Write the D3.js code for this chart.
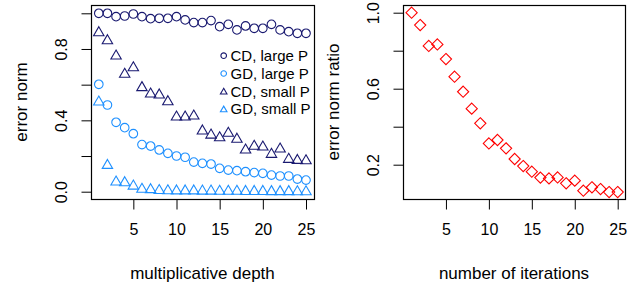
<!DOCTYPE html>
<html>
<head>
<meta charset="utf-8">
<script src="https://cdn.jsdelivr.net/npm/d3@7"></script>
<style>
  body { margin: 0; background: #fff; }
  text { font-family: "Liberation Sans", Arial, sans-serif; fill: #000; }
</style>
</head>
<body>
<svg id="chart" width="637" height="287"></svg>
<script>
// data
var depth = d3.range(1, 26);
var cdLarge = [1.0, 1.0, 0.981, 0.985, 0.996, 0.981, 0.970, 0.972, 0.972, 0.981,
  0.963, 0.948, 0.948, 0.959, 0.925, 0.938, 0.907, 0.929, 0.916, 0.916,
  0.938, 0.907, 0.897, 0.888, 0.888];
var gdLarge = [0.602, 0.486, 0.389, 0.359, 0.325, 0.264, 0.256, 0.234, 0.215, 0.200,
  0.193, 0.166, 0.159, 0.155, 0.131, 0.121, 0.118, 0.112, 0.107, 0.103,
  0.093, 0.088, 0.088, 0.071, 0.065];
var cdSmall = [0.897, 0.852, 0.766, 0.664, 0.700, 0.589, 0.553, 0.548, 0.510, 0.424,
  0.424, 0.430, 0.346, 0.323, 0.308, 0.333, 0.300, 0.239, 0.260, 0.256,
  0.215, 0.245, 0.187, 0.181, 0.179];
var gdSmall = [0.508, 0.153, 0.060, 0.056, 0.037, 0.019, 0.017, 0.012, 0.011, 0.010,
  0.010, 0.010, 0.009, 0.009, 0.008, 0.008, 0.008, 0.007, 0.007, 0.007,
  0.006, 0.006, 0.006, 0.005, 0.005];
var ratio = [1.0, 0.935, 0.825, 0.833, 0.756, 0.663, 0.584, 0.495, 0.418, 0.312,
  0.330, 0.286, 0.230, 0.193, 0.163, 0.132, 0.128, 0.133, 0.102, 0.116,
  0.063, 0.081, 0.072, 0.056, 0.056];

var xTicks = [5, 10, 15, 20, 25];
var leftYTicks = [0, 0.2, 0.4, 0.6, 0.8, 1.0];
var leftYLabels = [0, 0.4, 0.8];
var rightYTicks = [0.2, 0.4, 0.6, 0.8, 1.0];
var rightYLabels = [0.2, 0.6, 1.0];

var navy = "#191970", blue = "#1E90FF", red = "#FF0000";

var series = [
  { name: "CD, large P", values: cdLarge, color: navy, shape: "circle" },
  { name: "GD, large P", values: gdLarge, color: blue, shape: "circle" },
  { name: "CD, small P", values: cdSmall, color: navy, shape: "triangle" },
  { name: "GD, small P", values: gdSmall, color: blue, shape: "triangle" }
];

var svg = d3.select("#chart");

function tri(r) {
  // equilateral triangle, point up, centred on the point
  var h = r * Math.sqrt(3) / 2;
  return "M0," + (-r) + "L" + h + "," + (r / 2) + "L" + (-h) + "," + (r / 2) + "Z";
}
function diamond(r) {
  return "M0," + (-r) + "L" + r + ",0L0," + r + "L" + (-r) + ",0Z";
}

function drawPanel(opt) {
  var g = svg.append("g");
  var x = d3.scaleLinear().domain([1, 25]).range(opt.xRange);
  var y = d3.scaleLinear().domain(opt.yDomain).range(opt.yRange);

  g.append("rect")
    .attr("x", opt.box[0] + 0.5).attr("y", opt.box[1] + 0.5)
    .attr("width", opt.box[2] - opt.box[0]).attr("height", opt.box[3] - opt.box[1])
    .attr("fill", "none").attr("stroke", "#000").attr("stroke-width", 1.2);

  // x axis
  var xa = g.append("g")
    .attr("transform", "translate(0," + (opt.box[3] + 0.5) + ")")
    .call(d3.axisBottom(x).tickValues(xTicks).tickSize(10).tickPadding(14));
  xa.select(".domain").remove();
  xa.selectAll("text").attr("font-size", 16).attr("font-family", null);

  // y axis, labels on every other tick only
  var ya = g.append("g")
    .attr("transform", "translate(" + (opt.box[0] + 0.5) + ",0)")
    .call(d3.axisLeft(y).tickValues(opt.yTicks).tickSize(10)
      .tickFormat(function(d) {
        return opt.yLabels.some(function(l) { return Math.abs(l - d) < 1e-9; }) ? d3.format(".1f")(d) : "";
      }));
  ya.select(".domain").remove();
  ya.selectAll("text")
    .attr("font-size", 16).attr("font-family", null)
    .attr("x", null).attr("dy", null)
    .attr("text-anchor", "middle")
    .attr("transform", "translate(-24.5,0) rotate(-90)");

  // titles
  g.append("text")
    .attr("x", (opt.box[0] + opt.box[2]) / 2).attr("y", 279)
    .attr("text-anchor", "middle").attr("font-size", 17)
    .text(opt.xTitle);
  g.append("text")
    .attr("transform", "translate(" + (opt.box[0] - 64) + "," + ((opt.box[1] + opt.box[3]) / 2) + ") rotate(-90)")
    .attr("text-anchor", "middle").attr("font-size", 17)
    .text(opt.yTitle);

  return { g: g, x: x, y: y };
}

// left panel
var L = drawPanel({
  box: [91, 5, 314, 199],
  xRange: [98.8, 306],
  yDomain: [0, 1], yRange: [191.7, 13.3],
  yTicks: leftYTicks, yLabels: leftYLabels,
  xTitle: "multiplicative depth", yTitle: "error norm"
});

series.forEach(function(s) {
  L.g.append("g").selectAll("path")
    .data(s.values).enter().append("path")
    .attr("transform", function(d, i) {
      return "translate(" + L.x(depth[i]) + "," + (s.shape === "triangle" ? L.y(d) + 1 : L.y(d)) + ")";
    })
    .attr("d", s.shape === "circle" ? d3.symbol().type(d3.symbolCircle).size(Math.PI * 4.3 * 4.3)() : tri(6))
    .attr("fill", "none")
    .attr("stroke", s.color)
    .attr("stroke-width", 1.1);
});

// legend
var leg = L.g.append("g");
series.forEach(function(s, i) {
  var yy = 55.7 + i * 17.8;
  leg.append("path")
    .attr("transform", "translate(223.7," + (s.shape === "triangle" ? yy + 0.8 : yy) + ")")
    .attr("d", s.shape === "circle" ? d3.symbol().type(d3.symbolCircle).size(Math.PI * 2.8 * 2.8)() : tri(3.8))
    .attr("fill", "none").attr("stroke", s.color).attr("stroke-width", 1.1);
  leg.append("text")
    .attr("x", 230.5).attr("y", yy + 5.3)
    .attr("font-size", 15)
    .text(s.name);
});

// right panel
var R = drawPanel({
  box: [403, 5, 625, 199],
  xRange: [411.6, 617.7],
  yDomain: [0.2, 1], yRange: [164.7, 12.7],
  yTicks: rightYTicks, yLabels: rightYLabels,
  xTitle: "number of iterations", yTitle: "error norm ratio"
});

R.g.append("g").selectAll("path")
  .data(ratio).enter().append("path")
  .attr("transform", function(d, i) {
    return "translate(" + R.x(depth[i]) + "," + R.y(d) + ")";
  })
  .attr("d", diamond(5.6))
  .attr("fill", "none")
  .attr("stroke", red)
  .attr("stroke-width", 1.1);
</script>
</body>
</html>
